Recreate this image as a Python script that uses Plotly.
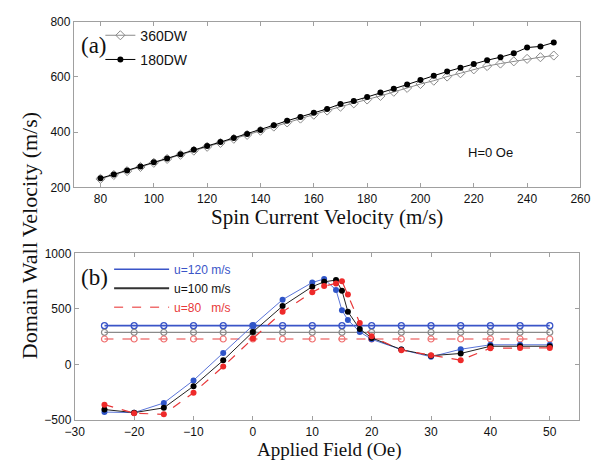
import plotly.graph_objects as go

# ---------- panel (a) data ----------
spin_u = [80, 85, 90, 95, 100, 105, 110, 115, 120, 125, 130, 135, 140, 145, 150, 155, 160,
          165, 170, 175, 180, 185, 190, 195, 200, 205, 210, 215, 220, 225, 230, 235, 240, 245, 250]
v_180 = [233, 247, 261, 276, 291, 305, 320, 336, 350, 364, 379, 393, 408, 425, 441, 455, 470,
         484, 502, 513, 527, 543, 557, 572, 589, 604, 619, 633, 646, 660, 671, 685, 706, 710, 724]
v_360 = [231, 245, 259, 274, 289, 303, 318, 333, 347, 361, 376, 390, 405, 420, 435, 449, 463,
         478, 492, 504, 518, 531, 546, 560, 574, 586, 601, 613, 627, 639, 648, 656, 665, 671, 677]

# ---------- panel (b) data ----------
field = [-25, -20, -15, -10, -5, 0, 5, 10, 12, 14, 15, 16, 18, 20, 25, 30, 35, 40, 45, 50]
v_u120 = [-427, -432, -345, -142, 105, 352, 584, 738, 770, 671, 488, 401, 294, 227, 135, 70, 138, 178, 178, 178]
v_u100 = [-404, -432, -389, -194, 38, 294, 526, 701, 744, 760, 665, 475, 320, 240, 135, 80, 100, 165, 165, 165]
v_u80 = [-360, -437, -447, -253, -17, 235, 474, 651, 706, 730, 750, 630, 375, 255, 130, 85, 40, 148, 150, 150]

field_360 = [-25, -20, -15, -10, -5, 0, 5, 10, 15, 20, 25, 30, 35, 40, 45, 50]
v360_u120 = [350] * len(field_360)
v360_u100 = [290] * len(field_360)
v360_u80 = [230] * len(field_360)

BLUE = "#3a55c8"
RED = "#e8383a"
GRAY = "#8a8a8a"
TICKF = dict(family="Liberation Sans, Arial", size=12, color="#111")
SERIF = "Liberation Serif, Times New Roman"

fig = go.Figure()

# panel (a)
fig.add_trace(go.Scatter(x=spin_u, y=v_360, mode="lines+markers", name="360DW",
                         line=dict(color=GRAY, width=1),
                         marker=dict(symbol="diamond-open", size=7, color=GRAY, line=dict(width=1)),
                         xaxis="x", yaxis="y", legend="legend", legendgroup="a1"))
fig.add_trace(go.Scatter(x=spin_u, y=v_180, mode="lines+markers", name="180DW",
                         line=dict(color="black", width=1),
                         marker=dict(symbol="circle", size=6, color="black"),
                         xaxis="x", yaxis="y", legend="legend", legendgroup="a2"))

# panel (b) horizontal (360DW) reference series
fig.add_trace(go.Scatter(x=field_360, y=v360_u120, mode="lines+markers", showlegend=False,
                         line=dict(color=BLUE, width=1.6),
                         marker=dict(symbol="circle-open", size=6, color=BLUE, line=dict(width=1.3)),
                         xaxis="x2", yaxis="y2"))
fig.add_trace(go.Scatter(x=field_360, y=v360_u100, mode="lines+markers", showlegend=False,
                         line=dict(color=GRAY, width=1.3),
                         marker=dict(symbol="circle-open", size=6, color=GRAY, line=dict(width=1.2)),
                         xaxis="x2", yaxis="y2"))
fig.add_trace(go.Scatter(x=field_360, y=v360_u80, mode="lines+markers", showlegend=False,
                         line=dict(color="#f08080", width=1.6, dash="dash"),
                         marker=dict(symbol="circle-open", size=6, color="#f07070", line=dict(width=1.2)),
                         xaxis="x2", yaxis="y2"))

# panel (b) 180DW series
fig.add_trace(go.Scatter(x=field, y=v_u120, mode="lines+markers", showlegend=False,
                         line=dict(color="#5a74d8", width=1),
                         marker=dict(symbol="circle", size=6, color="#2f55c8"),
                         xaxis="x2", yaxis="y2"))
fig.add_trace(go.Scatter(x=field, y=v_u100, mode="lines+markers", showlegend=False,
                         line=dict(color="#222", width=1),
                         marker=dict(symbol="circle", size=6, color="black"),
                         xaxis="x2", yaxis="y2"))
fig.add_trace(go.Scatter(x=field, y=v_u80, mode="lines+markers", showlegend=False,
                         line=dict(color=RED, width=1.2, dash="dash"),
                         marker=dict(symbol="circle", size=6, color="#ee2a2a"),
                         xaxis="x2", yaxis="y2"))

# legend entries for panel (b)
fig.add_trace(go.Scatter(x=[None], y=[None], mode="lines",
                         name="<span style='color:%s'>u=120 m/s</span>" % BLUE,
                         line=dict(color=BLUE, width=1.5), xaxis="x2", yaxis="y2", legend="legend2"))
fig.add_trace(go.Scatter(x=[None], y=[None], mode="lines",
                         name="<span style='color:#111'>u=100 m/s</span>",
                         line=dict(color="#333", width=2), xaxis="x2", yaxis="y2", legend="legend2"))
fig.add_trace(go.Scatter(x=[None], y=[None], mode="lines",
                         name="<span style='color:%s'>u=80&nbsp;&nbsp;&nbsp;m/s</span>" % RED,
                         line=dict(color="#f07070", width=1.5, dash="dash"), xaxis="x2", yaxis="y2",
                         legend="legend2"))

axis_common = dict(showgrid=False, zeroline=False, showline=True, linecolor="#a0a0a0", linewidth=1,
                   mirror="ticks", ticks="inside", ticklen=4, tickcolor="#a0a0a0",
                   tickfont=TICKF)

fig.update_layout(
    width=603, height=466, autosize=False,
    margin=dict(l=0, r=0, t=0, b=0),
    paper_bgcolor="white", plot_bgcolor="white",
    xaxis=dict(domain=[66 / 603, 590 / 603], range=[70, 260], tickmode="array",
               tickvals=[80, 100, 120, 140, 160, 180, 200, 220, 240, 260], anchor="y", **axis_common),
    yaxis=dict(domain=[1 - 186 / 466, 1 - 15 / 466], range=[200, 800], tickmode="array",
               tickvals=[200, 400, 600, 800], anchor="x", **axis_common),
    xaxis2=dict(domain=[67 / 603, 589 / 603], range=[-30, 55], tickmode="array",
                tickvals=[-30, -20, -10, 0, 10, 20, 30, 40, 50], anchor="y2", **axis_common),
    yaxis2=dict(domain=[1 - 426 / 466, 1 - 254 / 466], range=[-500, 1000], tickmode="array",
                tickvals=[-500, 0, 500, 1000], anchor="x2", **axis_common),
    legend=dict(x=0.155, y=0.972, xanchor="left", yanchor="top", bgcolor="rgba(0,0,0,0)",
                font=dict(family="Liberation Sans, Arial", size=14, color="#111"),
                traceorder="grouped", tracegroupgap=3, itemwidth=30),
    legend2=dict(x=0.17, y=0.452, xanchor="left", yanchor="top", bgcolor="rgba(0,0,0,0)",
                 font=dict(family="Liberation Sans, Arial", size=12, color="#111"),
                 tracegroupgap=0, itemwidth=55),
    annotations=[
        dict(text="(a)", x=71 / 603, y=1 - 40 / 466, xref="paper", yref="paper", showarrow=False,
             xanchor="left", yanchor="middle", font=dict(family=SERIF, size=23, color="#111")),
        dict(text="(b)", x=71 / 603, y=1 - 279 / 466, xref="paper", yref="paper", showarrow=False,
             xanchor="left", yanchor="middle", font=dict(family=SERIF, size=23, color="#111")),
        dict(text="H=0 Oe", x=497 / 603, y=1 - 150 / 466, xref="paper", yref="paper", showarrow=False,
             xanchor="center", yanchor="middle", font=dict(family="Liberation Sans, Arial", size=13, color="#111")),
        dict(text="Spin Current Velocity (m/s)", x=328 / 603, y=1 - 216 / 466, xref="paper", yref="paper",
             showarrow=False, xanchor="center", yanchor="middle",
             font=dict(family=SERIF, size=21, color="#111")),
        dict(text="Applied Field (Oe)", x=330 / 603, y=0, xref="paper", yref="paper",
             showarrow=False, xanchor="center", yanchor="bottom", yshift=-3, borderpad=0,
             font=dict(family=SERIF, size=19, color="#111")),
        dict(text="Domain Wall Velocity (m/s)", x=21 / 603, y=1 - 236 / 466, xref="paper", yref="paper",
             showarrow=False, xanchor="center", yanchor="middle", textangle=-90,
             font=dict(family=SERIF, size=22, color="#111")),
    ],
)

fig.write_html("out.html")
